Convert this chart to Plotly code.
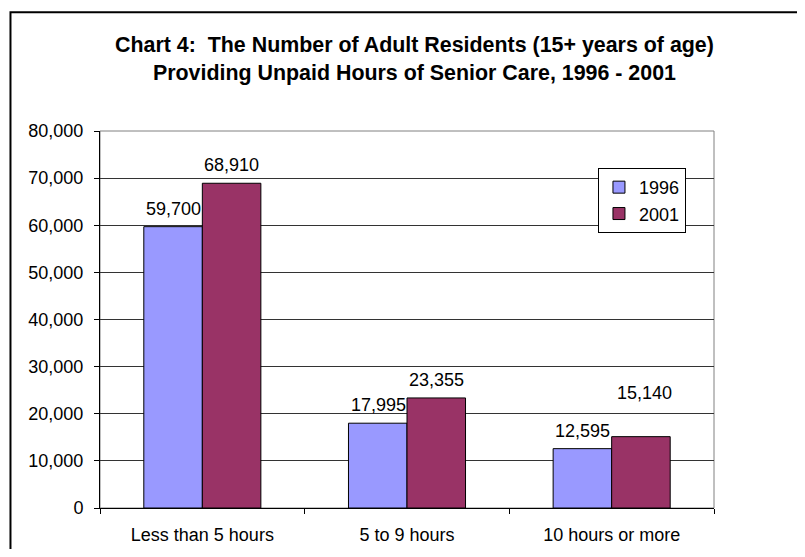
import plotly.graph_objects as go

categories = ["Less than 5 hours", "5 to 9 hours", "10 hours or more"]
series_names = ["1996", "2001"]
values_1996 = [59700, 17995, 12595]
values_2001 = [68910, 23355, 15140]
y_ticks = [0, 10000, 20000, 30000, 40000, 50000, 60000, 70000, 80000]

FONT = "Arial, Liberation Sans, sans-serif"
colors = ["#9999FF", "#993366"]

fig = go.Figure()
for name, vals, col in zip(series_names, [values_1996, values_2001], colors):
    fig.add_trace(go.Bar(
        x=categories, y=vals, name=name,
        marker=dict(color=col, line=dict(color="black", width=1)),
    ))

# data labels
label_shift = {("2001", 2): (4, 44)}
for si, (name, vals) in enumerate(zip(series_names, [values_1996, values_2001])):
    for ci, (cat, v) in enumerate(zip(categories, vals)):
        dx, dy = label_shift.get((name, ci), (0, 18))
        fig.add_annotation(
            x=cat, y=v, xref="x", yref="y",
            text=f"{v:,}", showarrow=False,
            xshift=(-29 if si == 0 else 29) + dx, yshift=dy,
            yanchor="middle", xanchor="center",
            font=dict(family=FONT, size=18, color="black"),
        )

fig.add_annotation(
    text="<b>Chart 4:\u00a0 The Number of Adult Residents (15+ years of age)<br>Providing Unpaid Hours of Senior Care, 1996 - 2001</b>",
    xref="paper", yref="paper", x=0.513, y=1.19, xanchor="center", yanchor="middle",
    showarrow=False, font=dict(family=FONT, size=21.4, color="black"),
)

# plot area border (gray)
fig.add_shape(type="rect", xref="paper", yref="paper", x0=0, y0=0, x1=1, y1=1,
              line=dict(color="#808080", width=1), layer="below")
# outer chart frame
fig.add_shape(type="rect", xref="paper", yref="paper", x0=-0.1458, y0=-0.3, x1=1.3, y1=1.315,
              line=dict(color="black", width=2))

fig.update_layout(
    width=789, height=541,
    margin=dict(l=92, r=83, t=123, b=41),
    paper_bgcolor="white", plot_bgcolor="white",
    barmode="group", bargap=0.428, bargroupgap=0,
    font=dict(family=FONT, size=18, color="black"),
    showlegend=True,
    legend=dict(
        x=0.811, y=0.902, xanchor="left", yanchor="top",
        bgcolor="white", bordercolor="black", borderwidth=1,
        font=dict(family=FONT, size=18, color="black"),
        itemwidth=30,
    ),
    xaxis=dict(
        type="category", range=[-0.5, 2.5], tickson="boundaries",
        ticks="outside", ticklen=5, tickcolor="black", tickwidth=1,
        ticklabelstandoff=10, automargin=False,
        showline=True, linecolor="black", linewidth=1,
        showgrid=False, tickfont=dict(family=FONT, size=18, color="black"),
    ),
    yaxis=dict(
        range=[0, 80000], tickvals=y_ticks, tickformat=",",
        ticks="outside", ticklen=5, tickcolor="black", tickwidth=1,
        ticklabelstandoff=7, automargin=False,
        showline=True, linecolor="black", linewidth=1,
        showgrid=True, gridcolor="#333333", gridwidth=1,
        zeroline=False, tickfont=dict(family=FONT, size=18, color="black"),
    ),
)

fig.write_html("out.html")
